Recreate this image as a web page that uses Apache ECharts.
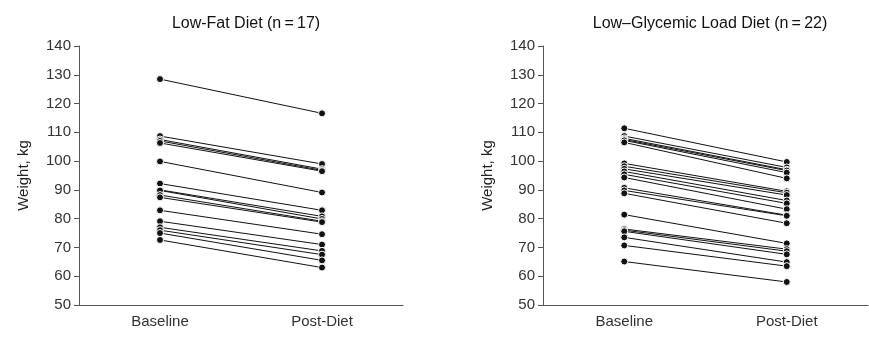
<!DOCTYPE html>
<html>
<head>
<meta charset="utf-8">
<script src="https://cdn.jsdelivr.net/npm/echarts@6/dist/echarts.min.js"></script>
<style>
  html, body { margin: 0; padding: 0; background: #fff; }
  #chart { width: 869px; height: 341px; }
</style>
</head>
<body>
<div id="chart"></div>
<script>
// x categories
const phases = ['Baseline', 'Post-Diet']
const yTicks = [50, 60, 70, 80, 90, 100, 110, 120, 130, 140]

// Low-fat diet, one value per subject
const lowFatBaseline = [128.5, 108.7, 107.5, 107.0, 106.3, 99.9, 92.2, 90.0, 89.8, 88.2, 87.4, 82.9, 79.1, 77.0, 76.0, 75.0, 72.6]
const lowFatPost = [116.6, 99.0, 97.2, 96.8, 96.5, 89.1, 82.9, 80.8, 79.9, 79.1, 78.8, 74.6, 71.0, 68.8, 67.5, 65.5, 63.0]

// Low-glycemic load diet
const lowGlyBaseline = [111.4, 108.7, 107.9, 107.5, 107.2, 106.5, 99.2, 98.2, 97.3, 96.4, 95.4, 94.3, 90.7, 89.8, 88.8, 81.4, 76.4, 76.0, 75.6, 73.5, 70.7, 65.1]
const lowGlyPost = [99.7, 97.8, 97.0, 96.7, 96.0, 94.0, 89.5, 89.0, 88.2, 86.3, 85.3, 83.3, 81.2, 81.0, 78.4, 71.4, 69.4, 68.7, 67.6, 64.9, 63.5, 58.0]

const font = 'Liberation Sans, Arial, sans-serif'

function subjectSeries(base, post, idx) {
  return base.map((b, i) => ({
    type: 'line',
    xAxisIndex: idx,
    yAxisIndex: idx,
    data: [b, post[i]],
    symbol: 'circle',
    symbolSize: 7,
    lineStyle: { color: '#111', width: 1 },
    itemStyle: { color: '#111', borderColor: '#fff', borderWidth: 1 },
    emphasis: { disabled: true },
    animation: false
  }))
}

function yAxis(idx) {
  return {
    type: 'value',
    gridIndex: idx,
    min: yTicks[0],
    max: yTicks[yTicks.length - 1],
    interval: 10,
    name: 'Weight, kg',
    nameLocation: 'middle',
    nameGap: 48,
    nameTextStyle: { fontFamily: font, fontSize: 15, color: '#222' },
    axisLine: { show: true, lineStyle: { color: '#555', width: 1 } },
    axisTick: { show: true, length: 5, lineStyle: { color: '#555' } },
    axisLabel: { fontFamily: font, fontSize: 15, color: '#333', margin: 8 },
    splitLine: { show: false }
  }
}

function xAxis(idx) {
  return {
    type: 'category',
    gridIndex: idx,
    data: phases,
    axisLine: { show: true, lineStyle: { color: '#555', width: 1 } },
    axisTick: { show: false },
    axisLabel: { fontFamily: font, fontSize: 15, color: '#333', margin: 9 },
    splitLine: { show: false }
  }
}

const chart = echarts.init(document.getElementById('chart'))
chart.setOption({
  backgroundColor: '#fff',
  animation: false,
  title: [
    {
      text: 'Low-Fat Diet (n\u2009=\u200917)',
      left: 241, top: 11, textAlign: 'center',
      textStyle: { fontFamily: font, fontSize: 16, fontWeight: 'normal', color: '#111' }
    },
    {
      text: 'Low\u2013Glycemic Load Diet (n\u2009=\u200922)',
      left: 705, top: 11, textAlign: 'center',
      textStyle: { fontFamily: font, fontSize: 16, fontWeight: 'normal', color: '#111' }
    }
  ],
  grid: [
    { left: 79, top: 46, width: 324, height: 259 },
    { left: 543, top: 46, width: 325, height: 259 }
  ],
  xAxis: [xAxis(0), xAxis(1)],
  yAxis: [yAxis(0), yAxis(1)],
  series: subjectSeries(lowFatBaseline, lowFatPost, 0)
    .concat(subjectSeries(lowGlyBaseline, lowGlyPost, 1))
})
</script>
</body>
</html>
